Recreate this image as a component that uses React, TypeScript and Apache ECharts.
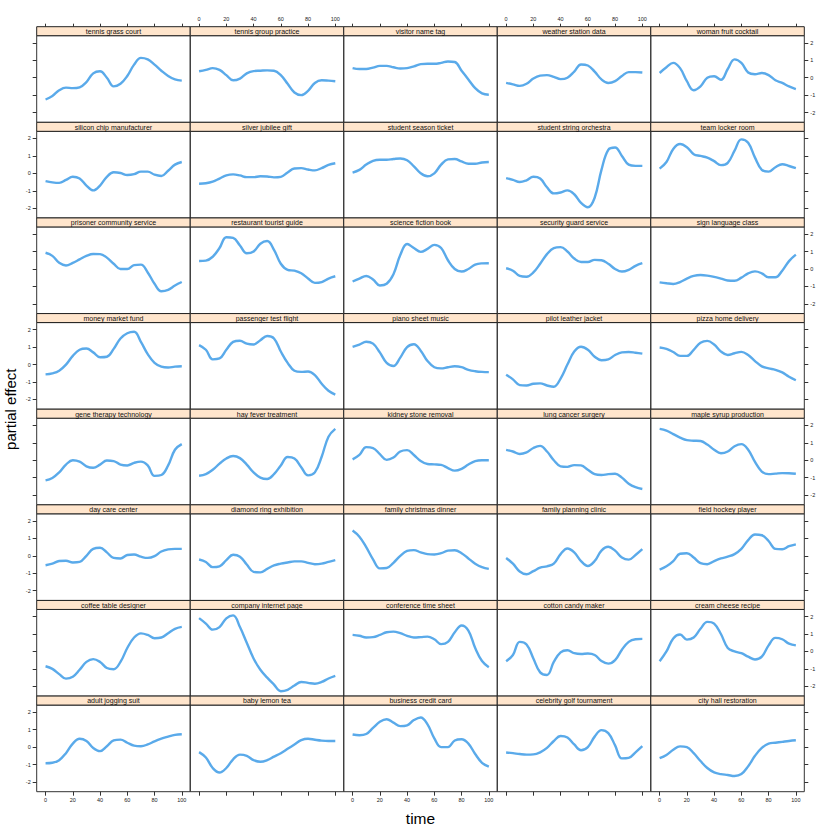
import React, { useEffect, useRef } from "react";
import * as echarts from "echarts";

const TIME = [0, 5, 10, 15, 20, 25, 30, 35, 40, 45, 50, 55, 60, 65, 70, 75, 80, 85, 90, 95, 100];
const X_TICKS = [0, 20, 40, 60, 80, 100];
const Y_TICKS = [-2, -1, 0, 1, 2];

// row 1
const tennisGrassCourt = [-1.25, -1.05, -0.72, -0.57, -0.6, -0.55, -0.25, 0.25, 0.37, 0.0, -0.5, -0.35, 0.1, 0.75, 1.14, 1.05, 0.75, 0.4, 0.1, -0.1, -0.17];
const tennisGroupPractice = [0.37, 0.45, 0.55, 0.45, 0.15, -0.15, -0.05, 0.25, 0.38, 0.4, 0.42, 0.4, 0.15, -0.35, -0.85, -1.0, -0.75, -0.3, -0.15, -0.17, -0.2];
const visitorNameTag = [0.55, 0.5, 0.5, 0.58, 0.68, 0.68, 0.6, 0.53, 0.55, 0.65, 0.78, 0.8, 0.8, 0.85, 0.93, 0.9, 0.4, -0.1, -0.6, -0.9, -0.98];
const weatherStationData = [-0.3, -0.38, -0.47, -0.35, -0.05, 0.12, 0.15, 0.05, -0.08, 0.0, 0.35, 0.76, 0.7, 0.35, -0.1, -0.3, -0.2, 0.1, 0.32, 0.32, 0.3];
const womanFruitCocktail = [0.27, 0.6, 0.85, 0.55, -0.2, -0.72, -0.5, 0.0, 0.08, -0.12, 0.5, 1.05, 0.85, 0.3, 0.2, 0.27, 0.15, -0.15, -0.3, -0.5, -0.65];
// row 2
const siliconChipManufacturer = [-0.45, -0.52, -0.55, -0.38, -0.2, -0.3, -0.7, -0.98, -0.7, -0.2, 0.06, 0.02, -0.1, -0.05, 0.1, 0.1, -0.08, -0.15, 0.15, 0.5, 0.65];
const silverJubileeGift = [-0.6, -0.57, -0.48, -0.3, -0.12, -0.06, -0.12, -0.22, -0.22, -0.17, -0.18, -0.23, -0.2, 0.05, 0.28, 0.3, 0.22, 0.17, 0.3, 0.48, 0.58];
const studentSeasonTicket = [0.04, 0.2, 0.5, 0.72, 0.78, 0.78, 0.82, 0.85, 0.75, 0.4, 0.0, -0.17, 0.0, 0.5, 0.8, 0.82, 0.68, 0.55, 0.55, 0.62, 0.65];
const studentStringOrchestra = [-0.27, -0.38, -0.5, -0.4, -0.2, -0.3, -0.8, -1.15, -1.1, -0.98, -1.2, -1.7, -1.95, -1.4, 0.2, 1.35, 1.48, 1.0, 0.5, 0.43, 0.43];
const teamLockerRoom = [0.27, 0.65, 1.4, 1.68, 1.5, 1.1, 1.0, 0.9, 0.7, 0.47, 0.6, 1.3, 1.95, 1.75, 0.9, 0.2, 0.1, 0.35, 0.52, 0.42, 0.3];
// row 3
const prisonerCommunityService = [0.93, 0.75, 0.35, 0.2, 0.35, 0.55, 0.75, 0.86, 0.85, 0.65, 0.3, 0.0, 0.0, 0.22, 0.25, -0.2, -0.85, -1.28, -1.2, -0.95, -0.75];
const restaurantTouristGuide = [0.46, 0.48, 0.7, 1.2, 1.82, 1.78, 1.35, 0.9, 1.0, 1.45, 1.6, 1.1, 0.3, -0.05, -0.1, -0.25, -0.55, -0.8, -0.75, -0.55, -0.42];
const scienceFictionBook = [-0.72, -0.55, -0.4, -0.6, -0.95, -0.85, -0.3, 0.8, 1.43, 1.2, 0.98, 1.15, 1.38, 1.2, 0.5, 0.0, -0.15, 0.0, 0.25, 0.32, 0.33];
const securityGuardService = [0.04, -0.1, -0.4, -0.45, -0.2, 0.3, 0.85, 1.2, 1.25, 1.0, 0.6, 0.4, 0.4, 0.52, 0.5, 0.3, 0.0, -0.15, -0.05, 0.18, 0.33];
const signLanguageClass = [-0.77, -0.82, -0.86, -0.75, -0.55, -0.4, -0.35, -0.38, -0.45, -0.55, -0.66, -0.68, -0.5, -0.25, -0.14, -0.25, -0.48, -0.48, -0.1, 0.45, 0.82];
// row 4
const moneyMarketFund = [-0.56, -0.5, -0.35, 0.0, 0.5, 0.85, 0.92, 0.7, 0.42, 0.45, 0.9, 1.5, 1.8, 1.88, 1.3, 0.6, 0.1, -0.12, -0.17, -0.12, -0.1];
const passengerTestFlight = [1.12, 0.85, 0.3, 0.35, 0.85, 1.3, 1.37, 1.2, 1.15, 1.4, 1.64, 1.5, 0.75, 0.1, -0.35, -0.42, -0.4, -0.6, -1.1, -1.5, -1.72];
const pianoSheetMusic = [1.02, 1.15, 1.31, 1.2, 0.7, 0.1, -0.08, 0.4, 1.0, 1.17, 0.8, 0.2, -0.15, -0.22, -0.15, -0.1, -0.15, -0.3, -0.38, -0.42, -0.43];
const pilotLeatherJacket = [-0.58, -0.85, -1.18, -1.2, -1.1, -1.08, -1.2, -1.27, -0.8, 0.0, 0.75, 1.02, 0.85, 0.45, 0.25, 0.3, 0.55, 0.7, 0.72, 0.68, 0.63];
const pizzaHomeDelivery = [0.98, 0.9, 0.72, 0.5, 0.5, 0.85, 1.25, 1.36, 1.15, 0.75, 0.55, 0.65, 0.73, 0.55, 0.2, -0.1, -0.22, -0.3, -0.45, -0.7, -0.9];
// row 5
const geneTherapyTechnology = [-1.16, -1.02, -0.7, -0.25, 0.0, -0.08, -0.35, -0.43, -0.25, -0.02, -0.05, -0.25, -0.3, -0.15, -0.08, -0.3, -0.9, -0.85, -0.3, 0.6, 0.92];
const hayFeverTreatment = [-0.89, -0.8, -0.55, -0.2, 0.1, 0.24, 0.12, -0.25, -0.7, -1.0, -1.08, -0.8, -0.3, 0.18, 0.1, -0.4, -0.87, -0.7, 0.2, 1.35, 1.8];
const kidneyStoneRemoval = [0.05, 0.3, 0.75, 0.7, 0.35, 0.02, 0.15, 0.5, 0.58, 0.3, -0.05, -0.22, -0.24, -0.27, -0.45, -0.6, -0.5, -0.25, -0.05, 0.0, 0.0];
const lungCancerSurgery = [0.59, 0.5, 0.36, 0.45, 0.7, 0.82, 0.5, 0.0, -0.35, -0.38, -0.28, -0.3, -0.55, -0.8, -0.85, -0.8, -0.78, -1.0, -1.35, -1.55, -1.65];
const mapleSyrupProduction = [1.8, 1.7, 1.5, 1.3, 1.15, 1.12, 1.1, 0.9, 0.6, 0.4, 0.5, 0.8, 0.92, 0.6, -0.1, -0.65, -0.8, -0.77, -0.74, -0.75, -0.78];
// row 6
const dayCareCenter = [-0.54, -0.45, -0.3, -0.28, -0.38, -0.35, 0.0, 0.4, 0.46, 0.2, -0.12, -0.15, 0.05, 0.08, -0.05, -0.12, -0.02, 0.25, 0.37, 0.4, 0.4];
const diamondRingExhibition = [-0.21, -0.35, -0.65, -0.6, -0.25, 0.06, -0.05, -0.5, -0.92, -0.95, -0.75, -0.55, -0.45, -0.38, -0.32, -0.32, -0.4, -0.48, -0.45, -0.35, -0.25];
const familyChristmasDinner = [1.45, 1.1, 0.5, -0.2, -0.72, -0.7, -0.4, 0.0, 0.28, 0.33, 0.2, 0.1, 0.08, 0.15, 0.3, 0.32, 0.15, -0.15, -0.45, -0.65, -0.75];
const familyPlanningClinic = [-0.12, -0.45, -0.9, -1.06, -0.88, -0.68, -0.6, -0.45, 0.1, 0.42, 0.2, -0.3, -0.58, -0.3, 0.3, 0.52, 0.3, -0.1, -0.22, 0.05, 0.38];
const fieldHockeyPlayer = [-0.79, -0.6, -0.3, 0.12, 0.15, -0.1, -0.42, -0.48, -0.3, -0.15, -0.05, 0.1, 0.4, 0.9, 1.22, 1.18, 0.85, 0.4, 0.38, 0.55, 0.66];
// row 7
const coffeeTableDesigner = [-0.85, -1.0, -1.3, -1.56, -1.45, -1.05, -0.6, -0.44, -0.6, -0.95, -1.02, -0.6, 0.2, 0.8, 1.04, 0.95, 0.76, 0.8, 1.05, 1.3, 1.41];
const companyInternetPage = [1.91, 1.6, 1.25, 1.4, 1.9, 2.07, 1.4, 0.5, -0.4, -1.05, -1.5, -1.9, -2.28, -2.2, -1.95, -1.75, -1.8, -1.85, -1.75, -1.55, -1.4];
const conferenceTimeSheet = [0.95, 0.9, 0.8, 0.82, 0.95, 1.1, 1.14, 1.05, 0.9, 0.8, 0.82, 0.85, 0.7, 0.42, 0.55, 1.1, 1.49, 1.2, 0.2, -0.55, -0.9];
const cottonCandyMaker = [-0.56, -0.2, 0.55, 0.4, -0.4, -1.2, -1.35, -0.6, -0.05, 0.07, -0.1, -0.15, -0.12, -0.2, -0.55, -0.7, -0.5, 0.1, 0.55, 0.7, 0.72];
const creamCheeseRecipe = [-0.56, 0.0, 0.75, 0.97, 0.68, 0.8, 1.3, 1.7, 1.6, 1.0, 0.2, 0.0, -0.1, -0.3, -0.46, -0.3, 0.35, 0.78, 0.7, 0.45, 0.35];
// row 8
const adultJoggingSuit = [-0.93, -0.9, -0.75, -0.35, 0.2, 0.48, 0.35, -0.05, -0.23, 0.05, 0.38, 0.43, 0.25, 0.08, 0.05, 0.15, 0.33, 0.48, 0.6, 0.7, 0.74];
const babyLemonTea = [-0.29, -0.6, -1.2, -1.46, -1.2, -0.7, -0.43, -0.5, -0.75, -0.84, -0.75, -0.55, -0.35, -0.1, 0.15, 0.4, 0.48, 0.42, 0.37, 0.35, 0.35];
const businessCreditCard = [0.72, 0.68, 0.75, 1.1, 1.45, 1.6, 1.4, 1.2, 1.25, 1.55, 1.7, 1.3, 0.5, 0.0, 0.0, 0.38, 0.45, 0.2, -0.4, -0.9, -1.12];
const celebrityGolfTournament = [-0.31, -0.35, -0.4, -0.43, -0.42, -0.3, -0.05, 0.35, 0.64, 0.55, 0.15, -0.18, 0.0, 0.6, 0.97, 0.8, 0.1, -0.65, -0.62, -0.3, 0.05];
const cityHallRestoration = [-0.64, -0.45, -0.15, 0.04, 0.0, -0.35, -0.8, -1.2, -1.45, -1.55, -1.6, -1.66, -1.55, -1.1, -0.5, -0.05, 0.2, 0.25, 0.3, 0.35, 0.39];

const PANELS: [string, number[]][] = [
  ["tennis grass court", tennisGrassCourt],
  ["tennis group practice", tennisGroupPractice],
  ["visitor name tag", visitorNameTag],
  ["weather station data", weatherStationData],
  ["woman fruit cocktail", womanFruitCocktail],
  ["silicon chip manufacturer", siliconChipManufacturer],
  ["silver jubilee gift", silverJubileeGift],
  ["student season ticket", studentSeasonTicket],
  ["student string orchestra", studentStringOrchestra],
  ["team locker room", teamLockerRoom],
  ["prisoner community service", prisonerCommunityService],
  ["restaurant tourist guide", restaurantTouristGuide],
  ["science fiction book", scienceFictionBook],
  ["security guard service", securityGuardService],
  ["sign language class", signLanguageClass],
  ["money market fund", moneyMarketFund],
  ["passenger test flight", passengerTestFlight],
  ["piano sheet music", pianoSheetMusic],
  ["pilot leather jacket", pilotLeatherJacket],
  ["pizza home delivery", pizzaHomeDelivery],
  ["gene therapy technology", geneTherapyTechnology],
  ["hay fever treatment", hayFeverTreatment],
  ["kidney stone removal", kidneyStoneRemoval],
  ["lung cancer surgery", lungCancerSurgery],
  ["maple syrup production", mapleSyrupProduction],
  ["day care center", dayCareCenter],
  ["diamond ring exhibition", diamondRingExhibition],
  ["family christmas dinner", familyChristmasDinner],
  ["family planning clinic", familyPlanningClinic],
  ["field hockey player", fieldHockeyPlayer],
  ["coffee table designer", coffeeTableDesigner],
  ["company internet page", companyInternetPage],
  ["conference time sheet", conferenceTimeSheet],
  ["cotton candy maker", cottonCandyMaker],
  ["cream cheese recipe", creamCheeseRecipe],
  ["adult jogging suit", adultJoggingSuit],
  ["baby lemon tea", babyLemonTea],
  ["business credit card", businessCreditCard],
  ["celebrity golf tournament", celebrityGolfTournament],
  ["city hall restoration", cityHallRestoration],
];

const X_TITLE = "time";
const Y_TITLE = "partial effect";

export default function App() {
  const ref = useRef<HTMLDivElement>(null);
  useEffect(() => {
    const chart = echarts.init(ref.current!, null, { renderer: "svg" });
    const FONT = "Liberation Sans, Arial, Helvetica, sans-serif";
    const L = 36.7, R = 804.3, T = 26.7, B = 791.7, S = 9;
    const NC = 5, NR = 8;
    const W = (R - L) / NC, H = (B - T) / NR;
    const XMIN = -6.5, XMAX = 106.2, YMIN = -2.56, YMAX = 2.41;
    const frame = "#333";
    const tickStyle = { color: "#333", width: 1 };
    const labelBase = { fontSize: 5.5, color: "#222", fontFamily: FONT };

    const grids: any[] = [];
    const xAxes: any[] = [];
    const yAxes: any[] = [];
    const series: any[] = [];
    const graphics: any[] = [];

    PANELS.forEach(([name, vals], i) => {
      const r = Math.floor(i / NC), c = i % NC;
      const gl = L + c * W;
      const rowTop = T + r * H;
      grids.push({
        left: gl, top: rowTop + S, width: W, height: H - S,
        show: true, borderColor: frame, borderWidth: 1, backgroundColor: "transparent",
      });
      const isBottom = r === NR - 1;
      const xi = xAxes.length;
      xAxes.push({
        type: "value", gridIndex: i, position: "bottom", min: XMIN, max: XMAX,
        axisLine: { show: false, onZero: false }, splitLine: { show: false },
        axisTick: { show: isBottom, customValues: X_TICKS, length: 4, lineStyle: tickStyle },
        axisLabel: { show: isBottom && c % 2 === 0, customValues: X_TICKS, margin: 5, ...labelBase },
      });
      if (r === 0) {
        xAxes.push({
          type: "value", gridIndex: i, position: "top", offset: S, min: XMIN, max: XMAX,
          axisLine: { show: false, onZero: false }, splitLine: { show: false },
          axisTick: { show: true, customValues: X_TICKS, length: 3, lineStyle: tickStyle },
          axisLabel: { show: c % 2 === 1, customValues: X_TICKS, margin: 5, ...labelBase },
        });
      }
      const yi = yAxes.length;
      yAxes.push({
        type: "value", gridIndex: i, position: "left", min: YMIN, max: YMAX,
        axisLine: { show: false, onZero: false }, splitLine: { show: false },
        axisTick: { show: c === 0, customValues: Y_TICKS, length: 4, lineStyle: tickStyle },
        axisLabel: { show: c === 0 && r % 2 === 1, customValues: Y_TICKS, margin: 6, ...labelBase },
      });
      if (c === NC - 1) {
        yAxes.push({
          type: "value", gridIndex: i, position: "right", min: YMIN, max: YMAX,
          axisLine: { show: false, onZero: false }, splitLine: { show: false },
          axisTick: { show: true, customValues: Y_TICKS, length: 4, lineStyle: tickStyle },
          axisLabel: { show: r % 2 === 0, customValues: Y_TICKS, margin: 6, ...labelBase },
        });
      }
      series.push({
        type: "line", name, xAxisIndex: xi, yAxisIndex: yi,
        data: TIME.map((t, k) => [t, vals[k]]),
        smooth: 0.4, symbol: "none", showSymbol: false, silent: true,
        lineStyle: { color: "#5aaaea", width: 2.4 },
      });
      graphics.push({
        type: "rect", z: 10,
        shape: { x: gl, y: rowTop, width: W, height: S },
        style: { fill: "#ffe5cc", stroke: "#222", lineWidth: 1 },
      });
      graphics.push({
        type: "text", z: 11,
        x: gl + W / 2, y: rowTop + S / 2 + 0.3,
        style: { text: name, fontSize: 7, fill: "#111", fontFamily: FONT, align: "center", verticalAlign: "middle" },
      });
    });

    graphics.push({
      type: "text", z: 11, x: (L + R) / 2, y: 818,
      style: { text: X_TITLE, fontSize: 15.5, fill: "#000", fontFamily: FONT, align: "center", verticalAlign: "middle" },
    });
    graphics.push({
      type: "text", z: 11, x: 10, y: (T + B) / 2, rotation: Math.PI / 2,
      style: { text: Y_TITLE, fontSize: 15, fill: "#000", fontFamily: FONT, align: "center", verticalAlign: "middle" },
    });

    chart.setOption({
      animation: false,
      backgroundColor: "#ffffff",
      grid: grids,
      xAxis: xAxes,
      yAxis: yAxes,
      series,
      graphic: graphics,
    });
    return () => chart.dispose();
  }, []);
  return <div ref={ref} style={{ position: "absolute", left: 0, top: 0, width: 830, height: 830 }} />;
}
